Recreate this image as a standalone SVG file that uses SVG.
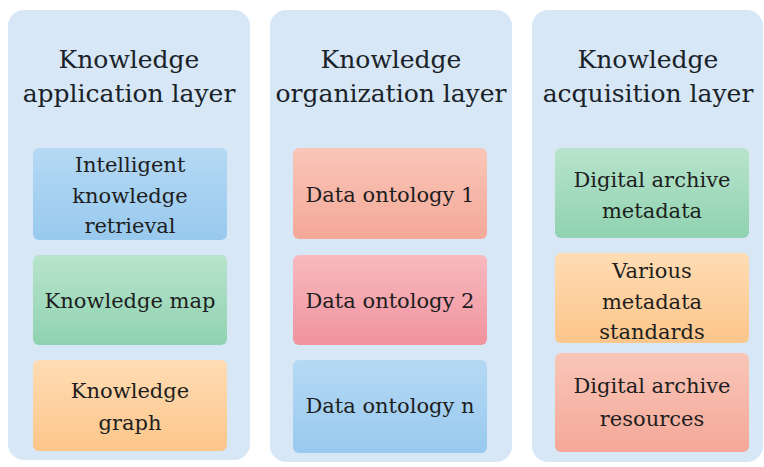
<svg xmlns="http://www.w3.org/2000/svg" width="764" height="467" viewBox="0 0 764 467">
<defs>
<linearGradient id="gBlue" x1="0" y1="0" x2="0" y2="1"><stop offset="0" stop-color="#b5d9f4"/><stop offset="1" stop-color="#98c9ee"/></linearGradient>
<linearGradient id="gGreen" x1="0" y1="0" x2="0" y2="1"><stop offset="0" stop-color="#b8e4cc"/><stop offset="1" stop-color="#8fd2b0"/></linearGradient>
<linearGradient id="gOrange" x1="0" y1="0" x2="0" y2="1"><stop offset="0" stop-color="#ffdcb4"/><stop offset="1" stop-color="#fcc68a"/></linearGradient>
<linearGradient id="gSalmon" x1="0" y1="0" x2="0" y2="1"><stop offset="0" stop-color="#f9c6b8"/><stop offset="1" stop-color="#f4a898"/></linearGradient>
<linearGradient id="gPink" x1="0" y1="0" x2="0" y2="1"><stop offset="0" stop-color="#f8b9bf"/><stop offset="1" stop-color="#f0939e"/></linearGradient>
</defs>
<style>
.panel{fill:#d7e7f5}
.title{font-size:25px;fill:#1a2229;text-anchor:middle}
.lbl{font-size:21px;fill:#1e1e1e;text-anchor:middle}
</style>
<rect width="764" height="467" fill="#ffffff"/>
<g font-family="'DejaVu Serif', serif">
<g id="layer-application">
<rect class="panel" x="8" y="10" width="242" height="450" rx="16"/>
<text class="title" x="129" y="68">Knowledge</text>
<text class="title" x="129" y="102">application layer</text>
</g>
<g id="layer-organization">
<rect class="panel" x="270" y="10" width="242" height="452" rx="16"/>
<text class="title" x="391" y="68">Knowledge</text>
<text class="title" x="391" y="102">organization layer</text>
</g>
<g id="layer-acquisition">
<rect class="panel" x="532" y="10" width="231" height="452" rx="16"/>
<text class="title" x="648" y="68">Knowledge</text>
<text class="title" x="648" y="102">acquisition layer</text>
</g>
<g id="intelligent-retrieval">
<rect x="33" y="148" width="194" height="92" rx="6" fill="url(#gBlue)"/>
<text class="lbl" x="130" y="172">Intelligent</text>
<text class="lbl" x="130" y="203">knowledge</text>
<text class="lbl" x="130" y="233">retrieval</text>
</g>
<g id="knowledge-map">
<rect x="33" y="255" width="194" height="90" rx="6" fill="url(#gGreen)"/>
<text class="lbl" x="130" y="308">Knowledge map</text>
</g>
<g id="knowledge-graph">
<rect x="33" y="360" width="194" height="91" rx="6" fill="url(#gOrange)"/>
<text class="lbl" x="130" y="398">Knowledge</text>
<text class="lbl" x="130" y="430">graph</text>
</g>
<g id="data-ontology-1">
<rect x="293" y="148" width="194" height="91" rx="6" fill="url(#gSalmon)"/>
<text class="lbl" x="390" y="202">Data ontology 1</text>
</g>
<g id="data-ontology-2">
<rect x="293" y="255" width="194" height="90" rx="6" fill="url(#gPink)"/>
<text class="lbl" x="390" y="308">Data ontology 2</text>
</g>
<g id="data-ontology-n">
<rect x="293" y="360" width="194" height="93" rx="6" fill="url(#gBlue)"/>
<text class="lbl" x="390" y="413">Data ontology n</text>
</g>
<g id="digital-archive-metadata">
<rect x="555" y="148" width="194" height="90" rx="6" fill="url(#gGreen)"/>
<text class="lbl" x="652" y="187">Digital archive</text>
<text class="lbl" x="652" y="218">metadata</text>
</g>
<g id="metadata-standards">
<rect x="555" y="253" width="194" height="90" rx="6" fill="url(#gOrange)"/>
<text class="lbl" x="652" y="278">Various</text>
<text class="lbl" x="652" y="309">metadata</text>
<text class="lbl" x="652" y="339">standards</text>
</g>
<g id="digital-archive-resources">
<rect x="555" y="353" width="194" height="99" rx="6" fill="url(#gSalmon)"/>
<text class="lbl" x="652" y="393">Digital archive</text>
<text class="lbl" x="652" y="426">resources</text>
</g>
</g>
<g id="connectors"></g>
</svg>
